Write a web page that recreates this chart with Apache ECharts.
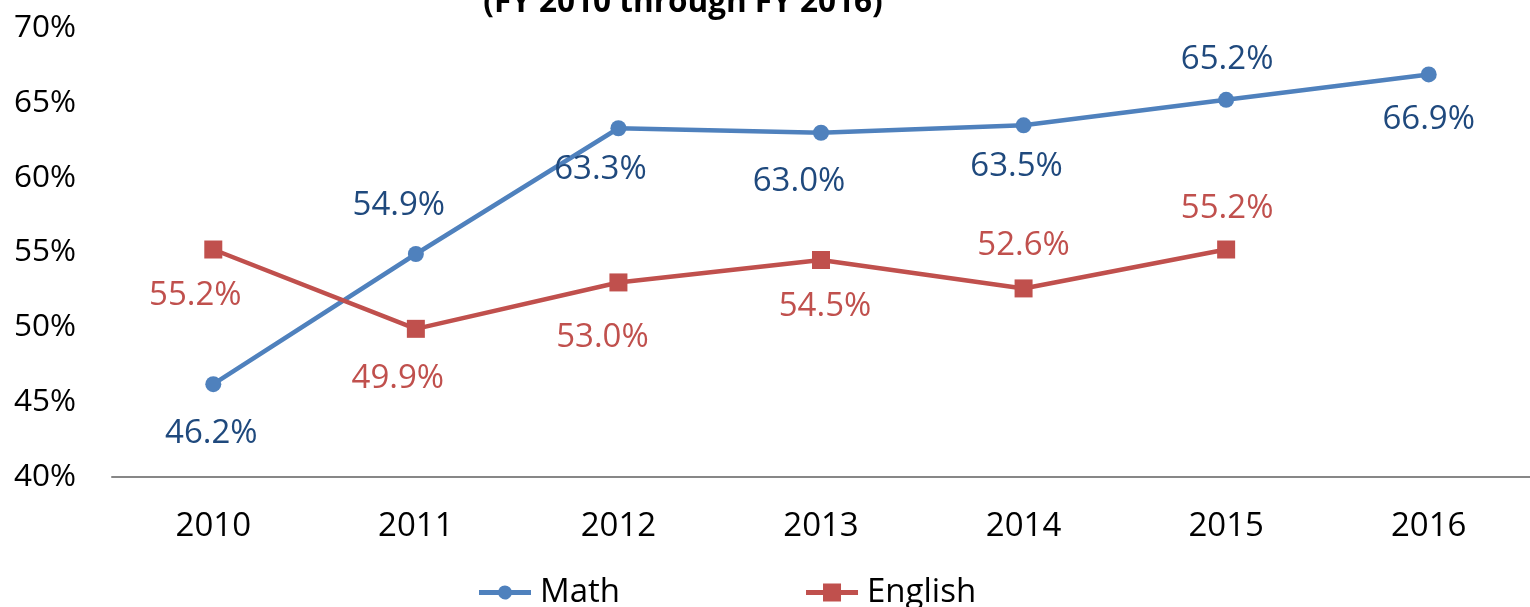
<!DOCTYPE html>
<html>
<head>
<meta charset="utf-8">
<script src="https://cdn.jsdelivr.net/npm/echarts@6/dist/echarts.min.js"></script>
<style>html,body{margin:0;padding:0;background:#fff}#c{width:1530px;height:607px}</style>
</head>
<body>
<div id="c"></div>
<script>
const years = ['2010','2011','2012','2013','2014','2015','2016'];
const mathValues = [46.2, 54.9, 63.3, 63.0, 63.5, 65.2, 66.9];
const englishValues = [55.2, 49.9, 53.0, 54.5, 52.6, 55.2, null];
const yTicks = [40, 45, 50, 55, 60, 65, 70];
const titleText = '(FY 2010 through FY 2016)';

// label placement (style): [dx, dy] of label centre relative to point
const mathLabelOffset = [[-2,49],[-17,-48],[-18,41],[-22,49],[-7,41],[1,-40],[0,45]];
const englishLabelOffset = [[-18,46],[-18,50],[-16,55],[4,47],[0,-43],[1,-41],[0,0]];

const FONT = 'Open Sans';
function withLabels(vals, offs, color) {
  return vals.map((v, i) => v == null ? null : ({
    value: v,
    label: { show: true, position: 'inside', offset: offs[i], color: color,
      fontFamily: FONT, fontSize: 33, formatter: p => p.value.toFixed(1) + '%' }
  }));
}

const chart = echarts.init(document.getElementById('c'), null, {renderer: 'canvas'});
chart.setOption({
  animation: false,
  title: {
    text: titleText, left: 678, top: -18, textAlign: 'center',
    textStyle: { fontFamily: FONT, fontWeight: 'bold', fontSize: 31.5, color: '#000' }
  },
  grid: { left: 112, top: 28, width: 1421, height: 449, containLabel: false },
  legend: {
    bottom: -7, left: 474, itemGap: 186, itemWidth: 52, itemHeight: 18,
    textStyle: { fontFamily: FONT, fontSize: 33, color: '#000', padding: [0,0,0,4] },
    data: [
      { name: 'Math', icon: 'path://M0,6.5 L19.46,6.5 A7,7 0 0 1 32.54,6.5 L52,6.5 L52,11.5 L32.54,11.5 A7,7 0 0 1 19.46,11.5 L0,11.5 Z' },
      { name: 'English', icon: 'path://M0,6.5 L17,6.5 L17,0 L35,0 L35,6.5 L52,6.5 L52,11.5 L35,11.5 L35,18 L17,18 L17,11.5 L0,11.5 Z' }
    ]
  },
  xAxis: {
    type: 'category', data: years, boundaryGap: true,
    axisLine: { lineStyle: { color: '#878787', width: 2 } },
    axisTick: { show: false },
    axisLabel: { fontFamily: FONT, fontSize: 33, color: '#000', margin: 33 }
  },
  yAxis: {
    type: 'value', min: yTicks[0], max: yTicks[yTicks.length-1], interval: 5,
    axisLine: { show: false }, axisTick: { show: false }, splitLine: { show: false },
    axisLabel: { fontFamily: FONT, fontSize: 31.5, color: '#000', margin: 36, formatter: v => v + '%' }
  },
  series: [
    { name: 'Math', type: 'line', data: withLabels(mathValues, mathLabelOffset, '#1F497D'),
      symbol: 'circle', symbolSize: 16,
      lineStyle: { color: '#4F81BD', width: 4.5 }, itemStyle: { color: '#4F81BD' } },
    { name: 'English', type: 'line', data: withLabels(englishValues, englishLabelOffset, '#C0504D'),
      symbol: 'rect', symbolSize: 18,
      lineStyle: { color: '#C0504D', width: 4.5 }, itemStyle: { color: '#C0504D' } }
  ]
});
</script>
</body>
</html>
